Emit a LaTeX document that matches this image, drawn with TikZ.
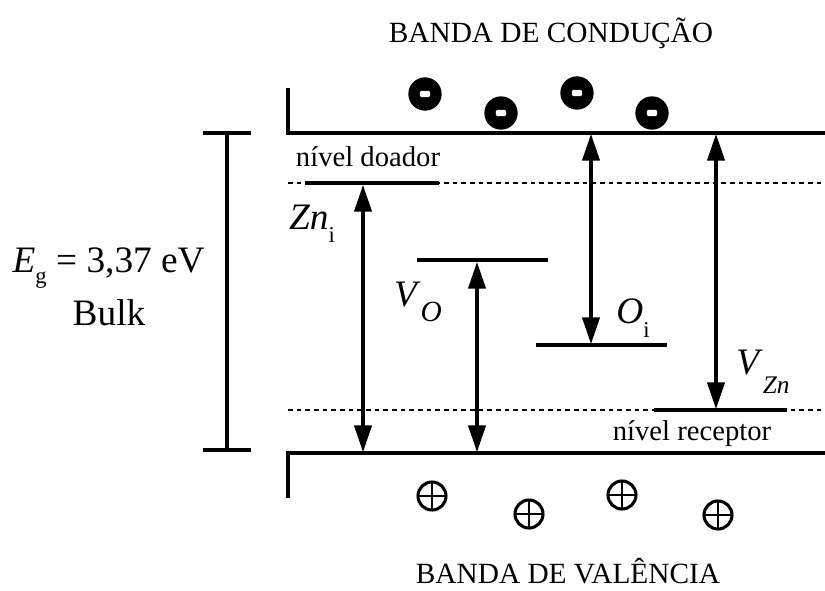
\documentclass[tikz,border=0pt]{standalone}
\usepackage{fontspec}
\setmainfont{Liberation Serif}
\usetikzlibrary{arrows.meta}

\begin{document}
\begin{tikzpicture}[x=0.75pt, y=-0.75pt,
  band/.style={line width=2.6pt},
  level/.style={line width=2.6pt},
  dotline/.style={line width=1.4pt, dash pattern=on 3.5pt off 3pt},
  trans/.style={line width=2.4pt, {Triangle[length=20pt,width=13pt]}-{Triangle[length=20pt,width=13pt]}},
  electron/.style={circle, fill=black, minimum size=25pt, inner sep=0pt,
    path picture={\fill[white, rounded corners=1pt] ([shift={(-3.8pt,-2.3pt)}]path picture bounding box.center) rectangle ([shift={(3.8pt,2.3pt)}]path picture bounding box.center);}},
  hole/.style={circle, draw, line width=2.3pt, minimum size=21pt, inner sep=0pt,
    path picture={\draw[line width=1.9pt] (path picture bounding box.north) -- (path picture bounding box.south)
      (path picture bounding box.west) -- (path picture bounding box.east);}},
  bandname/.style={inner sep=0pt, anchor=base, font=\fontsize{22}{26}\selectfont},
  lvlname/.style={inner sep=0pt, font=\fontsize{21.5}{25}\selectfont},
  defname/.style={inner sep=0pt, font=\fontsize{28}{32}\selectfont}]

\useasboundingbox (0,0) rectangle (825,590);

% bandas
\node[bandname] (cbname) at (551,42) {BANDA DE CONDUÇÃO};
\node[bandname] (vbname) at (568,583) {BANDA DE VALÊNCIA};
\coordinate (cbL) at (288,133);
\coordinate (cbR) at (825,133);
\coordinate (vbL) at (288,453);
\coordinate (vbR) at (825,453);
\draw[band] (288,88) -- (cbL) -- (cbR);
\draw[band] (288,498) -- (vbL) -- (vbR);

% eletrons e buracos
\node[electron] (e1) at (425,94) {};
\node[electron] (e2) at (501,113) {};
\node[electron] (e3) at (577,93) {};
\node[electron] (e4) at (652,113) {};
\node[hole] (h1) at (432,496) {};
\node[hole] (h2) at (529,514) {};
\node[hole] (h3) at (622,495) {};
\node[hole] (h4) at (718,515) {};

% gap
\coordinate (gT) at (227,133);
\coordinate (gB) at (227,450);
\draw[band] (gT) -- (gB);
\draw[band] (203,133) -- (251,133);
\draw[band] (203,450) -- (251,450);
\node[defname, anchor=east] (eg) at (205,268) {\textit{E}\raisebox{-8pt}{\fontsize{17}{17}\selectfont g} = 3,37 eV};
\node[defname] (bulk) at (109,313) {Bulk};

% niveis
\draw[dotline] (288,183) -- (825,183);
\draw[dotline] (288,410) -- (825,410);
\node[lvlname] (doador) at (368,157) {nível doador};
\node[lvlname] (receptor) at (692,434) {nível receptor};

\coordinate (znL) at (305,183);
\coordinate (znR) at (439,183);
\coordinate (voL) at (417,260);
\coordinate (voR) at (548,260);
\coordinate (oiL) at (536,345);
\coordinate (oiR) at (667,345);
\coordinate (vzL) at (654,410);
\coordinate (vzR) at (787,410);
\draw[level] (znL) -- (znR);
\draw[level] (voL) -- (voR);
\draw[level] (oiL) -- (oiR);
\draw[level] (vzL) -- (vzR);

% transicoes
\coordinate (zn) at (363,185);
\coordinate (znV) at (363,452);
\coordinate (vo) at (477,262);
\coordinate (voV) at (477,452);
\coordinate (oi) at (591,344);
\coordinate (oiC) at (591,134);
\coordinate (vz) at (716,409);
\coordinate (vzC) at (716,134);
\draw[trans] (zn) -- (znV);
\draw[trans] (vo) -- (voV);
\draw[trans] (oiC) -- (oi);
\draw[trans] (vzC) -- (vz);

\node[defname] (znname) at (312,224) {\textit{Zn}\raisebox{-10pt}{\fontsize{17}{17}\selectfont i}};
\node[defname] (voname) at (418,302) {\textit{V}\raisebox{-11pt}{\fontsize{22}{22}\selectfont\textit{O}}};
\node[defname] (oiname) at (633,318) {\textit{O}\raisebox{-10pt}{\fontsize{17}{17}\selectfont i}};
\node[defname] (vzname) at (763,372) {\textit{V}\raisebox{-14pt}{\fontsize{19}{19}\selectfont\textit{Zn}}};

\end{tikzpicture}
\end{document}
